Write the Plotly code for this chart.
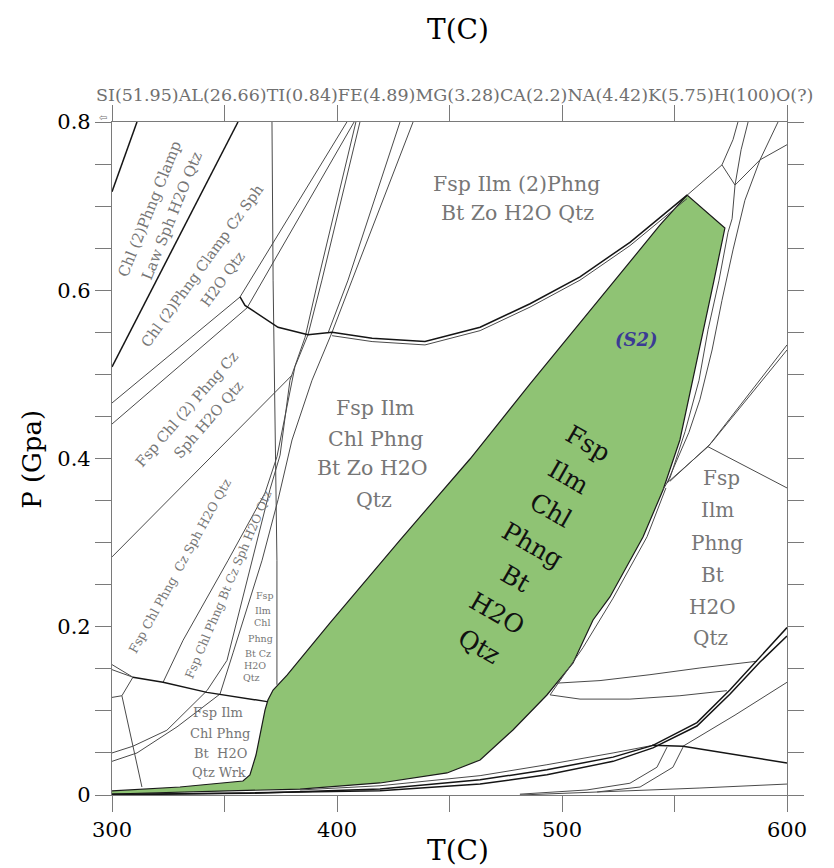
import plotly.graph_objects as go

# ---------------- axes / ticks ----------------
T_RANGE = [300, 600]
P_RANGE = [0, 0.8]
x_major = [300, 400, 500, 600]
y_major = [0, 0.2, 0.4, 0.6, 0.8]
y_major_text = ["0", "0.2", "0.4", "0.6", "0.8"]
composition = "SI(51.95)AL(26.66)TI(0.84)FE(4.89)MG(3.28)CA(2.2)NA(4.42)K(5.75)H(100)O(?)"

# ---------------- green field (S2) ----------------
green_T = [300.0, 339.1, 383.6, 419.1, 448.9, 463.6, 478.2, 493.3, 504.9, 513.8, 521.3, 536.0,
           544.9, 552.4, 558.2, 562.7, 567.6, 572.4, 555.6, 543.6, 516.9, 485.8, 459.1, 428.0,
           396.9, 377.8, 371.6, 369.3, 368.0, 366.2, 364.0, 361.3, 358.2, 330.2, 300.0]
green_P = [0.0012, 0.0036, 0.0071, 0.0143, 0.0262, 0.0416, 0.0773, 0.1189, 0.1569, 0.2080, 0.2354, 0.3067,
           0.3626, 0.4220, 0.4933, 0.5527, 0.6122, 0.6740, 0.7132, 0.6776, 0.5908, 0.4886, 0.3994, 0.3031,
           0.2045, 0.1426, 0.1248, 0.1129, 0.1010, 0.0773, 0.0475, 0.0238, 0.0166, 0.0095, 0.0048]

# ---------------- reaction lines ----------------
L1_T = [300, 311.1];                    L1_P = [0.717, 0.800]
L2_T = [300, 356.0];                    L2_P = [0.509, 0.800]
V_T = [371.1, 371.6, 373.3, 373.3];     V_P = [0.800, 0.612, 0.279, 0.131]
D1_T = [300, 356.9, 404.4];             D1_P = [0.466, 0.592, 0.800]
D2_T = [300, 360.0, 407.6];             D2_P = [0.441, 0.579, 0.800]
C1_T = [356.9, 359.1, 373.8, 387.1, 397.8, 415.6, 439.1, 463.6, 485.8, 508.0, 530.2, 543.6, 555.6]
C1_P = [0.592, 0.582, 0.556, 0.547, 0.550, 0.543, 0.539, 0.556, 0.584, 0.616, 0.657, 0.686, 0.713]
C1b_T = [397.8, 415.6, 439.1, 463.6, 485.8, 508.0, 530.2, 543.6, 555.6]
C1b_P = [0.546, 0.539, 0.535, 0.552, 0.580, 0.612, 0.653, 0.682, 0.709]
F1_T = [300, 380.0];                    F1_P = [0.283, 0.499]
P1_T = [322.7, 331.6, 351.6, 368.0, 373.3, 381.3, 387.1, 393.3, 410.2]
P1_P = [0.134, 0.184, 0.279, 0.359, 0.402, 0.509, 0.547, 0.612, 0.800]
P2_T = [300, 309.3, 324.4, 342.2, 351.1, 362.2, 370.2, 374.7, 379.1, 385.8, 391.6, 408.4]
P2_P = [0.050, 0.058, 0.077, 0.124, 0.160, 0.279, 0.363, 0.404, 0.493, 0.544, 0.612, 0.800]
P3_T = [300, 311.1, 328.9, 348.0, 353.8, 366.7, 373.8, 380.0, 388.9, 397.8, 406.7, 433.8]
P3_P = [0.040, 0.050, 0.081, 0.120, 0.169, 0.279, 0.351, 0.422, 0.493, 0.550, 0.612, 0.800]
S4_T = [396.0, 404.9, 428.0];           S4_P = [0.549, 0.612, 0.800]
T1_T = [555.6, 571.1, 576.0, 578.2];    T1_P = [0.713, 0.749, 0.779, 0.800]
T2_T = [571.1, 576.9, 575.6, 573.8];    T2_P = [0.749, 0.725, 0.685, 0.669]
T3_T = [576.9, 588.0, 600];             T3_P = [0.725, 0.755, 0.773]
T5_T = [596.0, 588.0, 581.3, 576.0, 571.1, 566.7, 561.3, 556.4, 546.7]
T5_P = [0.800, 0.755, 0.707, 0.648, 0.588, 0.529, 0.470, 0.431, 0.371]
T6_T = [582.7, 579.6, 576.9];           T6_P = [0.800, 0.767, 0.725]
R1_T = [573.8, 569.8, 564.9, 560.9, 554.7, 548.0, 544.9]
R1_P = [0.669, 0.612, 0.553, 0.493, 0.432, 0.377, 0.363]
RR1_T = [546.7, 564.9, 600];            RR1_P = [0.371, 0.414, 0.535]
RR1b_T = [548.0, 566.2, 600];           RR1b_P = [0.373, 0.418, 0.529]
RR2_T = [564.9, 600];                   RR2_P = [0.414, 0.365]
G2_T = [546.2, 537.8, 522.7, 509.3, 494.7]
G2_P = [0.365, 0.307, 0.234, 0.175, 0.119]
B1_T = [497.8, 516.9, 539.1, 561.3, 586.7]
B1_P = [0.133, 0.136, 0.143, 0.151, 0.159]
B2_T = [494.7, 508.0, 530.2, 552.4, 573.3]
B2_P = [0.119, 0.114, 0.114, 0.118, 0.124]
B3a_T = [300, 361.3, 419.1, 463.6, 493.3, 522.7, 540.4, 560.0, 574.7, 588.0, 600]
B3a_P = [0.001, 0.002, 0.007, 0.018, 0.030, 0.045, 0.059, 0.086, 0.125, 0.164, 0.199]
B3b_T = [300, 419.1, 463.6, 493.3, 522.7, 540.4, 560.0, 574.7, 588.0, 600]
B3b_P = [0.000, 0.005, 0.013, 0.024, 0.040, 0.056, 0.082, 0.120, 0.158, 0.189]
B3c_T = [383.6, 419.1, 463.6, 493.3, 522.7, 540.4]
B3c_P = [0.006, 0.011, 0.023, 0.036, 0.050, 0.059]
B4_T = [553.8, 576.9, 600];             B4_P = [0.058, 0.095, 0.134]
B5_T = [540.0, 553.8, 600];             B5_P = [0.059, 0.058, 0.038]
B6_T = [546.7, 542.2, 530.2, 511.1, 481.3]
B6_P = [0.057, 0.033, 0.014, 0.006, 0.001]
B7_T = [553.8, 549.3, 534.7, 515.6];    B7_P = [0.057, 0.033, 0.0095, 0.0036]
B8_T = [481.3, 516.9, 561.3, 600];      B8_P = [0.0, 0.0036, 0.0083, 0.013]
W1_T = [309.3, 322.7, 342.2, 368.9];    W1_P = [0.140, 0.134, 0.122, 0.111]
W2a_T = [300, 309.3];                   W2a_P = [0.155, 0.140]
W2b_T = [300, 309.3];                   W2b_P = [0.149, 0.140]
W3_T = [309.3, 304.4, 300];             W3_P = [0.140, 0.118, 0.116]
W4_T = [304.4, 309.3, 313.3];           W4_P = [0.118, 0.057, 0.0095]

# ---------------- field labels ----------------
lab_tl1 = ["Chl (2)Phng Clamp", "Law Sph H2O Qtz"]
lab_tl1_T = [316.9, 326.7];  lab_tl1_P = [0.696, 0.688]
lab_tl2 = ["Chl (2)Phng Clamp Cz Sph", "H2O Qtz"]
lab_tl2_T = [340.0, 349.3];  lab_tl2_P = [0.629, 0.613]
lab_tl3 = ["Fsp Chl (2) Phng Cz", "Sph H2O Qtz"]
lab_tl3_T = [333.3, 342.7];  lab_tl3_P = [0.459, 0.446]
lab_d = ["Fsp Chl Phng  Cz Sph H2O Qtz"]
lab_d_T = [330.2];           lab_d_P = [0.273]
lab_e = ["Fsp Chl Phng Bt Cz Sph H2O Qtz"]
lab_e_T = [351.6];           lab_e_P = [0.250]
lab_small = ["Fsp", "Ilm", "Chl", "Phng", "Bt Cz", "H2O", "Qtz"]
lab_small_T = [368.0, 367.1, 366.7, 365.8, 364.9, 363.6, 362.2]
lab_small_P = [0.2377, 0.2199, 0.2045, 0.1866, 0.1688, 0.1545, 0.1391]
lab_wrk = ["Fsp Ilm", "Chl Phng", "Bt  H2O", "Qtz Wrk"]
lab_wrk_T = [347.1, 348.0, 348.0, 347.6]
lab_wrk_P = [0.0975, 0.0737, 0.0499, 0.0262]
lab_mid = ["Fsp Ilm", "Chl Phng", "Bt Zo H2O", "Qtz"]
lab_mid_T = [416.9, 416.9, 415.6, 416.4]
lab_mid_P = [0.460, 0.423, 0.389, 0.351]
lab_up = ["Fsp Ilm (2)Phng", "Bt Zo H2O Qtz"]
lab_up_T = [479.6, 480.4];   lab_up_P = [0.726, 0.692]
lab_right = ["Fsp", "Ilm", "Phng", "Bt", "H2O", "Qtz"]
lab_right_T = [571.1, 568.9, 568.9, 567.1, 567.1, 565.8]
lab_right_P = [0.3768, 0.3388, 0.2996, 0.2615, 0.2235, 0.1866]
lab_green = ["Fsp", "Ilm", "Chl", "Phng", "Bt", "H2O", "Qtz"]
lab_green_T = [511.6, 503.1, 495.1, 487.1, 479.1, 471.1, 463.1]
lab_green_P = [0.418, 0.378, 0.338, 0.297, 0.257, 0.216, 0.176]
lab_s2 = "(S2)"
lab_s2_T = 533.3;            lab_s2_P = 0.541

# ---------------- styles ----------------
FONT = "DejaVu Serif"
AXC = "#7a7a7a"
GRAY_TXT = "#767676"
THIN = dict(color="#4a4a4a", width=1)
DARK = dict(color="#151515", width=1.5)

fig = go.Figure()

fig.add_trace(go.Scatter(x=green_T, y=green_P, mode="lines", fill="toself",
                         fillcolor="#8fc374", line=dict(color="#1a1a1a", width=1.2),
                         hoverinfo="skip", showlegend=False))

thin_lines = [(V_T, V_P), (D1_T, D1_P), (D2_T, D2_P), (C1b_T, C1b_P), (F1_T, F1_P),
              (P1_T, P1_P), (P2_T, P2_P), (P3_T, P3_P), (S4_T, S4_P), (T1_T, T1_P),
              (T2_T, T2_P), (T3_T, T3_P), (T5_T, T5_P), (T6_T, T6_P), (R1_T, R1_P),
              (RR1_T, RR1_P), (RR1b_T, RR1b_P), (RR2_T, RR2_P), (G2_T, G2_P),
              (B1_T, B1_P), (B2_T, B2_P), (B3c_T, B3c_P), (B4_T, B4_P), (B6_T, B6_P),
              (B7_T, B7_P), (B8_T, B8_P), (W2a_T, W2a_P), (W2b_T, W2b_P), (W3_T, W3_P),
              (W4_T, W4_P)]
dark_lines = [(L1_T, L1_P), (L2_T, L2_P), (C1_T, C1_P), (W1_T, W1_P), (B3a_T, B3a_P),
              (B3b_T, B3b_P), (B5_T, B5_P)]

for xs, ys in thin_lines:
    fig.add_trace(go.Scatter(x=xs, y=ys, mode="lines", line=THIN,
                             hoverinfo="skip", showlegend=False))
for xs, ys in dark_lines:
    fig.add_trace(go.Scatter(x=xs, y=ys, mode="lines", line=DARK,
                             hoverinfo="skip", showlegend=False))

# dummy trace for mirrored top/right axes
fig.add_trace(go.Scatter(x=[300], y=[0], xaxis="x2", yaxis="y2", mode="markers",
                         marker=dict(opacity=0), hoverinfo="skip", showlegend=False))


def add_labels(texts, ts, ps, size, angle=0, color=GRAY_TXT):
    for t, x, y in zip(texts, ts, ps):
        fig.add_annotation(x=x, y=y, xref="x", yref="y", text=t, showarrow=False,
                           textangle=angle, xanchor="center", yanchor="middle",
                           font=dict(family=FONT, size=size, color=color))


add_labels(lab_tl1, lab_tl1_T, lab_tl1_P, 15, -68)
add_labels(lab_tl2, lab_tl2_T, lab_tl2_P, 14.5, -54)
add_labels(lab_tl3, lab_tl3_T, lab_tl3_P, 14.5, -49)
add_labels(lab_d, lab_d_T, lab_d_P, 12.5, -61)
add_labels(lab_e, lab_e_T, lab_e_P, 12, -67)
add_labels(lab_small, lab_small_T, lab_small_P, 9.5)
add_labels(lab_wrk, lab_wrk_T, lab_wrk_P, 13)
add_labels(lab_mid, lab_mid_T, lab_mid_P, 20.5)
add_labels(lab_up, lab_up_T, lab_up_P, 20.5)
add_labels(lab_right, lab_right_T, lab_right_P, 20)
add_labels(lab_green, lab_green_T, lab_green_P, 25, 30, "#111111")
fig.add_annotation(x=lab_s2_T, y=lab_s2_P, text="<b><i>" + lab_s2 + "</i></b>", showarrow=False,
                   xanchor="center", yanchor="middle",
                   font=dict(family=FONT, size=18, color="#3b3b94"))


def add_paper_text(text, x, y, size, color="black", angle=0, family=FONT):
    fig.add_annotation(xref="paper", yref="paper", x=x, y=y, text=text, showarrow=False,
                       xanchor="center", yanchor="middle", textangle=angle,
                       font=dict(family=family, size=size, color=color))


add_paper_text("T(C)", 0.513, 1.137, 28)
add_paper_text(composition, 0.507, 1.040, 17.5, "#707070")
add_paper_text("⇦", -0.013, 1.006, 10, "#707070", family="DejaVu Sans")
add_paper_text("T(C)", 0.513, -0.082, 28)
add_paper_text("P (Gpa)", -0.1185, 0.498, 26, angle=-90)

tickfont = dict(family=FONT, size=21, color="black")
fig.update_layout(
    width=826, height=860,
    margin=dict(l=104, r=47, t=114, b=73),
    paper_bgcolor="white", plot_bgcolor="white",
    showlegend=False,
    xaxis=dict(range=T_RANGE, tickvals=x_major, ticks="outside", ticklen=16, tickwidth=1,
               tickcolor=AXC, showline=True, linecolor=AXC, linewidth=1.2, showgrid=False,
               zeroline=False, tickfont=tickfont,
               minor=dict(dtick=50, tick0=300, ticks="outside", ticklen=16, tickcolor=AXC,
                          showgrid=False)),
    xaxis2=dict(range=T_RANGE, overlaying="x", side="top", anchor="y", tick0=300, dtick=50,
                ticks="outside", ticklen=16, tickcolor=AXC, showticklabels=False,
                showline=True, linecolor=AXC, linewidth=1.2, showgrid=False, zeroline=False),
    yaxis=dict(range=P_RANGE, tickvals=y_major, ticktext=y_major_text, ticks="outside",
               ticklen=16, tickwidth=1, tickcolor=AXC, showline=True, linecolor=AXC,
               linewidth=1.2, showgrid=False, zeroline=False, tickfont=tickfont,
               minor=dict(dtick=0.05, tick0=0, ticks="outside", ticklen=16, tickcolor=AXC,
                          showgrid=False)),
    yaxis2=dict(range=P_RANGE, overlaying="y", side="right", anchor="x", tick0=0, dtick=0.05,
                ticks="outside", ticklen=16, tickcolor=AXC, showticklabels=False,
                showline=True, linecolor=AXC, linewidth=1.2, showgrid=False, zeroline=False),
)

fig.write_html("out.html")
